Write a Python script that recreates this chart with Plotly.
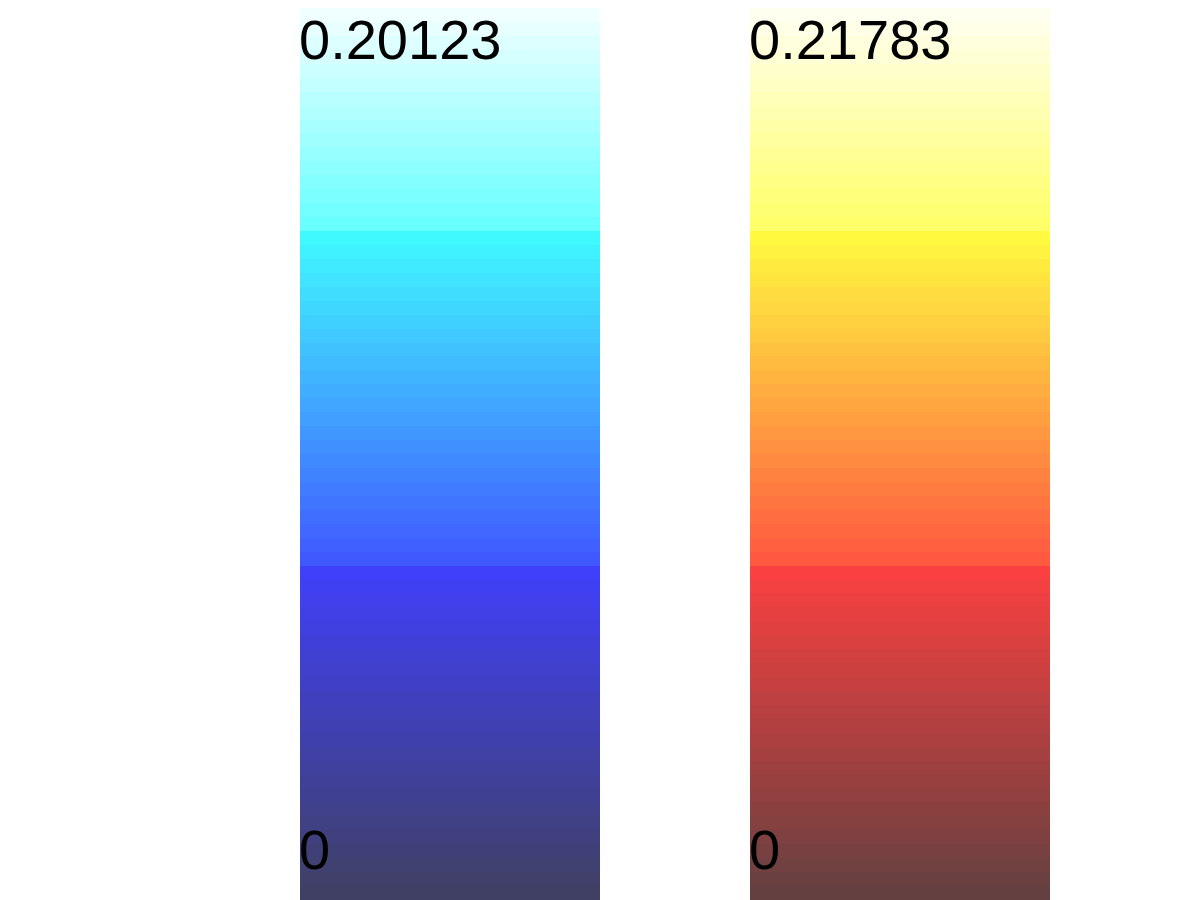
import numpy as np
import plotly.graph_objects as go

# Tick labels of the two colour bars (min at bottom, max at top)
left_min, left_max = 0.0, 0.20123
right_min, right_max = 0.0, 0.21783
n_levels = 64

left_labels = ["0.20123", "0"]
right_labels = ["0.21783", "0"]

# colour stops (as seen on white background), with small jumps between segments
left_scale = [[0.0, "rgb(64,64,100)"], [0.378, "rgb(64,64,255)"],
              [0.3781, "rgb(64,88,255)"], [0.759, "rgb(64,255,255)"],
              [0.7591, "rgb(104,255,255)"], [1.0, "rgb(240,255,255)"]]
right_scale = [[0.0, "rgb(100,64,64)"], [0.378, "rgb(255,64,64)"],
               [0.3781, "rgb(255,88,64)"], [0.759, "rgb(255,255,64)"],
               [0.7591, "rgb(255,255,104)"], [1.0, "rgb(255,255,240)"]]

W, H = 1200, 900
top_px = 8


def bar(vmin, vmax, scale, xa, ya):
    levels = np.linspace(vmin, vmax, n_levels)
    step = (vmax - vmin) / n_levels
    centers = vmin + step * (np.arange(n_levels) + 0.5)
    return go.Heatmap(z=levels.reshape(-1, 1), x=[0], y=centers,
                      colorscale=scale, zmin=vmin, zmax=vmax,
                      showscale=False, hoverinfo="skip",
                      xaxis=xa, yaxis=ya, zsmooth=False)


fig = go.Figure()
fig.add_trace(bar(left_min, left_max, left_scale, "x", "y"))
fig.add_trace(bar(right_min, right_max, right_scale, "x2", "y2"))

ytop = 1 - top_px / H
ax = dict(visible=False, showgrid=False, zeroline=False, fixedrange=True)
fig.update_layout(
    width=W, height=H, margin=dict(l=0, r=0, t=0, b=0),
    paper_bgcolor="white", plot_bgcolor="white",
    xaxis=dict(domain=[300 / W, 600 / W], range=[-0.5, 0.5], **ax),
    yaxis=dict(domain=[0, ytop], range=[left_min, left_max], **ax),
    xaxis2=dict(domain=[750 / W, 1050 / W], range=[-0.5, 0.5], **ax),
    yaxis2=dict(domain=[0, ytop], range=[right_min, right_max], anchor="x2", **ax),
    showlegend=False,
)

font = dict(family="Liberation Sans, Arial, Helvetica, sans-serif", size=56, color="black")
for x0, labels in ((300, left_labels), (750, right_labels)):
    fig.add_annotation(x=(x0 - 3) / W, y=1 - 40 / H, xref="paper", yref="paper",
                       text=labels[0], showarrow=False, xanchor="left",
                       yanchor="middle", font=font)
    fig.add_annotation(x=(x0 - 3) / W, y=1 - 849 / H, xref="paper", yref="paper",
                       text=labels[1], showarrow=False, xanchor="left",
                       yanchor="middle", font=font)

fig.write_html("out.html")
